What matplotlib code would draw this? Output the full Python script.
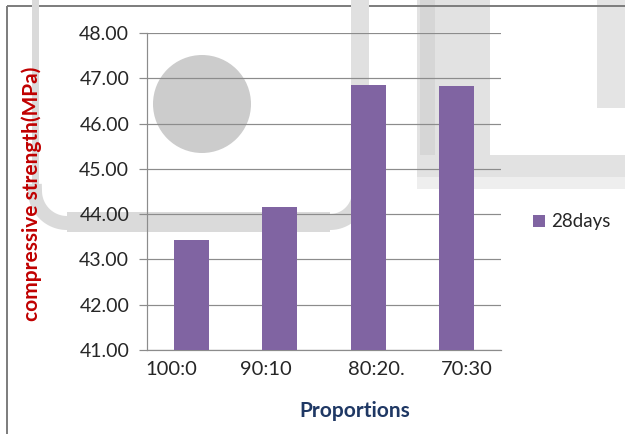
import numpy as np
import matplotlib
matplotlib.use('Agg')
import matplotlib.pyplot as plt
import matplotlib.patches as patches

plt.rcParams['font.family'] = ['Lato', 'DejaVu Sans']

# data
categories = ['100:0', '90:10', '80:20.', '70:30']
strength_28d = [43.42, 44.16, 46.86, 46.82]
series_name = '28days'
y_ticks = [41, 42, 43, 44, 45, 46, 47, 48]

BAR_COLOR = '#8064A2'
GRID_COLOR = '#8C8C8C'
TEXT_COLOR = '#262626'
W, H = 625, 434

fig = plt.figure(figsize=(W / 100, H / 100), dpi=100)

# background layer in pixel coordinates (frame + faded stamp behind the chart)
bg = fig.add_axes([0, 0, 1, 1], zorder=0)
bg.set_xlim(0, W); bg.set_ylim(H, 0)
bg.axis('off')

px = 0.72  # 1 px in points at 100 dpi
stamp = '#DADADA'
bg.add_patch(patches.Rectangle((417, -5), 73, 160, fc='#E2E2E2', ec='none'))
bg.add_patch(patches.Rectangle((420, -5), 15, 160, fc='#D6D6D6', ec='none'))
bg.add_patch(patches.Rectangle((597, -5), 40, 113, fc='#E4E4E4', ec='none'))
bg.add_patch(patches.Rectangle((417, 155), 220, 22, fc='#E2E2E2', ec='none'))
bg.add_patch(patches.Rectangle((417, 177), 220, 12, fc='#EEEEEE', ec='none'))
bg.add_patch(patches.Circle((202, 104), 49, fc='#CCCCCC', ec='none'))
# U-shaped stroke
t = np.linspace(np.pi, np.pi / 2, 30)
bg.plot([35, 35], [-5, 192], color=stamp, lw=7 * px, solid_capstyle='butt')
bg.plot(67 + 32 * np.cos(t), 192 + 32 * np.sin(t) - 1, color=stamp, lw=14 * px)
bg.plot([67, 330], [222, 222], color=stamp, lw=20 * px, solid_capstyle='butt')
t2 = np.linspace(np.pi / 2, 0, 30)
bg.plot(330 + 30 * np.cos(t2), 192 + 30 * np.sin(t2), color=stamp, lw=16 * px)
bg.plot([360, 360], [192, -5], color='#E0E0E0', lw=18 * px, solid_capstyle='butt')

# outer frame
bg.add_patch(patches.Rectangle((7, 6), 700, 500, fill=False, ec='#7F7F7F', lw=2 * px))

# chart
ax = fig.add_axes([147 / W, (H - 350) / H, (501 - 147) / W, (350 - 33) / H], zorder=1)
ax.patch.set_alpha(0)
x = np.arange(len(categories))
ax.bar(x, strength_28d, width=0.395, color=BAR_COLOR, zorder=3, label=series_name)
ax.set_xlim(-0.5, len(categories) - 0.5)
ax.set_ylim(y_ticks[0], y_ticks[-1])
ax.set_yticks(y_ticks)
ax.set_yticklabels([f'{v:.2f}' for v in y_ticks])
ax.yaxis.grid(True, color=GRID_COLOR, lw=1.2 * px, zorder=0)
ax.set_axisbelow(True)

# category labels sit slightly off the bar centres
label_shift = [-0.23, -0.16, 0.09, 0.11]
ax.set_xticks(x + np.array(label_shift))
ax.set_xticklabels(categories)
ax.tick_params(axis='x', length=0, pad=8, labelsize=14.5, labelcolor=TEXT_COLOR)
ax.tick_params(axis='y', length=8 * px, width=1.2 * px, color=GRID_COLOR, pad=7,
               labelsize=14, labelcolor=TEXT_COLOR)
for s in ('top', 'right'):
    ax.spines[s].set_visible(False)
for s in ('left', 'bottom'):
    ax.spines[s].set_color(GRID_COLOR)
    ax.spines[s].set_linewidth(1.2 * px)

fig.text(32 / W, 1 - 194 / H, 'compressive strength(MPa)', rotation=90,
         ha='center', va='center', color='#C00000', fontsize=15, fontweight='bold')
fig.text(355 / W, 1 - 411 / H, 'Proportions', ha='center', va='center',
         color='#1F3864', fontsize=15, fontweight='bold')

# legend
ax.legend(loc='center left', bbox_to_anchor=(516 / W, 1 - 222 / H),
          bbox_transform=fig.transFigure, frameon=False, fontsize=13.5,
          handlelength=0.65, handleheight=0.65, handletextpad=0.3,
          labelcolor=TEXT_COLOR)

fig.savefig('out.png', dpi=100)
